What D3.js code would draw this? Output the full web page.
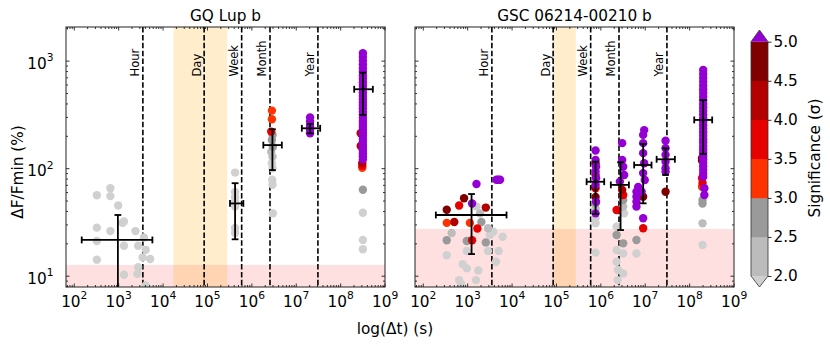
<!DOCTYPE html>
<html><head><meta charset="utf-8">
<script src="https://cdn.jsdelivr.net/npm/d3@7"></script>
<style>body{margin:0;background:#fff} svg{display:block;font-family:"DejaVu Sans",sans-serif}</style>
</head><body><svg id="c" width="830" height="346"></svg>
<script>
// ---------------- data ----------------
const panelTitles = ["GQ Lup b", "GSC 06214-00210 b"];
const timescaleNames = ["Hour", "Day", "Week", "Month", "Year"];
const timescaleSeconds = [3600, 86400, 604800, 2.628e6, 3.156e7];
const xTickExponents = [2, 3, 4, 5, 6, 7, 8, 9];
const yTickExponents = [1, 2, 3];
const sigTicks = [2.0, 2.5, 3.0, 3.5, 4.0, 4.5, 5.0];
const sigBinColors = ["#bcbcbc", "#9a9a9a", "#ff3300", "#e60000", "#b30000", "#800000"];
const sigUnderColor = "#d0d0d0";
const sigOverColor = "#9400d3";
const gqDayBand = [1.76e4, 2.85e5];
const gscDayBand = [86400, 2.8e5];
const gqNoiseFloor = 12.6;
const gscNoiseFloor = 27.2;

// points: [delta t (s), dF/Fmin (%), significance (sigma)]
const gqPoints = [
  [331,56,1.5],[668,65,1.5],[668,55,1.5],[1000,45,1.5],[1350,32,1.5],[1260,31,1.5],[331,28,1.5],
  [668,26,1.5],[2450,26,1.5],[331,21,1.5],[1350,19,1.5],[2820,19,1.5],[3800,22.7,1.5],[4170,17.4,1.5],
  [331,14.1,1.5],[3550,14.8,1.5],[5250,14.3,1.5],[2820,12,1.5],[2700,10.4,1.5],[1350,10.2,1.5],[4170,8.1,1.5],
  [4.3e5,91,1.5],[4.3e5,60,1.5],[4.3e5,54,1.5],[4.3e5,49,1.5],[4.3e5,44,1.5],[4.3e5,27.8,1.5],[4.3e5,25,1.5],
  [2.9e6,343,3.3],[2.9e6,285,3.3],[2.8e6,219,3.7],[3.0e6,204,2.7],[2.9e6,183,2.7],[3.05e6,158,2.7],
  [2.8e6,142,2.2],[3.0e6,128,2.2],[2.9e6,111,1.5],[3.0e6,100,1.5],[2.95e6,78,1.5],[3.0e6,70,1.5],[3.05e6,38,1.5],
  [2.1e7,297,5.5],[2.1e7,272,5.5],[2.1e7,247,5.5],[2.1e7,228,5.5],[2.1e7,211,5.5],
  [2.9e8,211,4.2],[2.9e8,161,4.2],[3.15e8,112,4.2],[3.15e8,106,3.7],[3.15e8,101,3.2],
  [3.25e8,63,2.7],[3.25e8,38.5,1.5],[3.25e8,21.5,1.5],[3.25e8,17.6,1.5],
  [3.25e8,1170,5.5],[3.25e8,1080,5.5],[3.25e8,1000,5.5],[3.25e8,920,5.5],[3.25e8,850,5.5],[3.25e8,790,5.5],
  [3.25e8,730,5.5],[3.25e8,680,5.5],[3.25e8,630,5.5],[3.25e8,585,5.5],[3.25e8,545,5.5],[3.25e8,505,5.5],
  [3.25e8,470,5.5],[3.25e8,440,5.5],[3.25e8,410,5.5],[3.25e8,385,5.5],[3.25e8,360,5.5],[3.25e8,335,5.5],
  [3.25e8,315,5.5],[3.25e8,295,5.5],[3.25e8,275,5.5],[3.25e8,258,5.5],[3.25e8,242,5.5],[3.25e8,228,5.5],
  [3.25e8,214,5.5],[3.25e8,200,5.5],[3.25e8,188,5.5],[3.25e8,176,5.5],[3.25e8,165,5.5],[3.25e8,155,5.5],
  [3.25e8,146,5.5],[3.25e8,137,5.5],[3.25e8,129,5.5],[3.25e8,121,5.5]
];
const gscPoints = [
  [1620,71.3,5.5],[4570,78,5.5],[5000,78,5.5],[5500,78,5.5],[850,52.5,4.7],[660,45,3.7],[1290,47,5.5],
  [347,41,4.7],[2630,43,4.2],[347,31,3.2],[513,31.6,4.2],[1150,31,3.2],[1700,27.5,3.7],[1290,21.4,3.7],
  [1620,44,1.5],[1950,38,2.2],[2090,31.6,2.7],[2950,27.6,2.2],[3890,25.6,1.5],[3240,24,1.5],[6300,23,1.5],
  [447,25,2.2],[347,21.4,2.7],[980,21,2.7],[2630,20.4,2.7],[980,17,1.5],[2950,17,1.5],[5130,17,1.5],
  [347,15.5,1.5],[4470,13.5,1.5],[795,12.8,1.5],[980,11.7,1.5],[1780,11.2,1.5],[660,9.1,1.5],[740,8.3,1.5],[1580,9.1,1.5],
  [7.8e5,146,5.5],[7.8e5,119,5.5],[7.8e5,111,4.7],[8.0e5,103,5.5],[7.8e5,93,5.5],[7.8e5,86.5,4.2],[8.0e5,80.5,5.5],
  [7.8e5,70,5.5],[7.6e5,67,4.7],[7.8e5,65,3.7],[7.8e5,54,4.7],[8.0e5,48.8,5.5],[7.8e5,47,2.7],[7.8e5,42,2.2],
  [7.8e5,38,5.5],[7.8e5,34,1.5],[7.8e5,30.7,1.5],[7.8e5,16.4,1.5],
  [3.1e6,171,5.5],[3.1e6,119,5.5],[3.27e6,103,5.5],[3.44e6,86.5,5.5],[2.75e6,75,5.5],[3.1e6,62.6,4.2],[3.27e6,56.4,3.7],
  [2.32e6,40.8,3.7],[3.27e6,50.6,2.7],[3.27e6,43.8,2.2],[3.44e6,38,1.5],[2.32e6,28.6,1.5],[2.32e6,23.9,2.7],
  [3.27e6,20,2.7],[2.32e6,17.3,1.5],[3.27e6,16.1,1.5],[2.32e6,13.5,1.5],[2.5e6,11.3,1.5],[3.27e6,10.5,1.5],[2.45e6,9.1,1.5],
  [9.7e6,226,5.5],[9.2e6,204,5.5],[9.2e6,171,5.5],[9.2e6,138,5.5],[9.7e6,111,5.5],[9.2e6,90,5.5],[1.0e7,77.6,5.5],
  [7.1e6,67,5.5],[6.5e6,60.4,5.5],[8.5e6,60.4,5.5],[9.2e6,54.3,4.7],[6.5e6,54.3,5.5],[6.5e6,48.8,5.5],[6.5e6,43.9,5.5],
  [9.2e6,34.2,5.5],[9.2e6,27.6,3.7],[6.5e6,21.5,2.7],[6.5e6,16.1,1.5],
  [2.94e7,180,5.5],[2.94e7,153,5.5],[2.94e7,133,5.5],[2.94e7,115,5.5],[2.94e7,99.7,5.5],[2.94e7,92.8,5.5],[2.94e7,60.4,4.7],
  [1.95e8,124,4.7],[1.95e8,118,4.7],[1.95e8,80.5,3.7],[2.0e8,73,3.7],[1.95e8,67.3,3.2],[2.0e8,50.6,2.7],[2.0e8,47,2.7],
  [2.0e8,30.7,2.2],[2.0e8,19.3,1.5],[2.2e8,65,5.5],[2.2e8,56.4,5.5],
  [2.07e8,819,5.5],[2.07e8,750,5.5],[2.07e8,690,5.5],[2.07e8,635,5.5],[2.07e8,585,5.5],[2.07e8,540,5.5],[2.07e8,500,5.5],
  [2.07e8,462,5.5],[2.07e8,428,5.5],[2.07e8,396,5.5],[2.07e8,367,5.5],[2.07e8,340,5.5],[2.07e8,315,5.5],[2.07e8,292,5.5],
  [2.07e8,271,5.5],[2.07e8,251,5.5],[2.07e8,233,5.5],[2.07e8,216,5.5],[2.07e8,200,5.5],[2.07e8,186,5.5],[2.07e8,173,5.5],
  [2.07e8,161,5.5],[2.07e8,150,5.5],[2.07e8,140,5.5],[2.07e8,130,5.5],[2.07e8,121,5.5],[2.07e8,112,5.5],[2.07e8,104,5.5],
  [2.07e8,96,5.5],[2.07e8,89,5.5],[2.07e8,83,5.5]
];
// binned means: [t centre, t low, t high, f centre, f low, f high]
const gqBins = [
  [985, 151, 5900, 21.5, 5, 36.7],
  [4.3e5, 3.3e5, 6.6e5, 47, 21.8, 72.5],
  [2.98e6, 1.86e6, 4.86e6, 164, 96, 230],
  [2.1e7, 1.37e7, 3.55e7, 235, 211, 258],
  [3.25e8, 2.07e8, 5.45e8, 542, 313, 773]
];
const gscBins = [
  [1255, 197, 7700, 36.7, 15.9, 57.5],
  [7.8e5, 4.9e5, 1.22e6, 74.8, 37.5, 115],
  [2.85e6, 1.72e6, 4.39e6, 69.9, 26.6, 113.5],
  [9.2e6, 5.77e6, 1.42e7, 107, 47.1, 168],
  [2.94e7, 1.85e7, 4.77e7, 121, 86.5, 153],
  [2.07e8, 1.3e8, 3.3e8, 281, 135.5, 430]
];

// ---------------- drawing ----------------
const svg = d3.select("#c");
const FS = 15.3;
const yTop = 27, yBottom = 287;
const xDomain = [Math.pow(10, 1.825), Math.pow(10, 9.01)];
const y = d3.scaleLog().domain([Math.pow(10, 0.895), Math.pow(10, 3.313)]).range([yBottom, yTop]);
const color = d3.scaleThreshold().domain(sigTicks).range([sigUnderColor].concat(sigBinColors, [sigOverColor]));

function minorTicks(domain) {
  const out = [];
  for (let e = 0; e <= 10; e++) for (let k = 2; k <= 9; k++) {
    const v = k * Math.pow(10, e);
    if (v >= domain[0] && v <= domain[1]) out.push(v);
  }
  return out;
}
function majorTicks(exps) { return exps.map(e => Math.pow(10, e)); }

function supLabels(sel) {
  sel.selectAll(".tick text").each(function(d) {
    const t = d3.select(this);
    const e = Math.round(Math.log10(d));
    t.text(null).attr("font-size", FS).attr("fill", "#000").attr("font-family", "DejaVu Sans");
    t.append("tspan").text("10");
    t.append("tspan").attr("dy", -7.5).attr("font-size", 10.7).text(e);
  });
}

function drawPanel(idx, x0, x1, points, bins, band, floor, showY) {
  const x = d3.scaleLog().domain(xDomain).range([x0, x1]);
  const g = svg.append("g");
  const clipId = "clip" + idx;
  svg.append("clipPath").attr("id", clipId).append("rect")
    .attr("x", x0).attr("y", yTop).attr("width", x1 - x0).attr("height", yBottom - yTop);
  const inner = g.append("g").attr("clip-path", `url(#${clipId})`);

  inner.append("rect").attr("x", x0).attr("width", x1 - x0)
    .attr("y", y(floor)).attr("height", yBottom - y(floor))
    .attr("fill", "rgba(255,0,0,0.12)");
  inner.append("rect").attr("x", x(band[0])).attr("width", x(band[1]) - x(band[0]))
    .attr("y", yTop).attr("height", yBottom - yTop)
    .attr("fill", "rgba(255,165,0,0.2)");

  inner.selectAll("line.ts").data(timescaleSeconds).join("line")
    .attr("x1", d => x(d)).attr("x2", d => x(d)).attr("y1", yTop).attr("y2", yBottom)
    .attr("stroke", "#000").attr("stroke-width", 1.6).attr("stroke-dasharray", "5.5,2.4");
  g.selectAll("text.ts").data(timescaleSeconds).join("text")
    .attr("transform", d => `translate(${x(d) - 3.5},76.5) rotate(-90)`)
    .attr("font-size", 11.5).attr("fill", "#000")
    .text((d, i) => timescaleNames[i]);

  const sorted = points.slice().sort((a, b) => a[2] - b[2]);
  inner.selectAll("circle").data(sorted).join("circle")
    .attr("cx", d => x(d[0])).attr("cy", d => y(d[1])).attr("r", 4.2)
    .attr("fill", d => color(d[2]));

  const eb = inner.append("g").attr("stroke", "#000").attr("stroke-width", 1.8);
  bins.forEach(b => {
    eb.append("line").attr("x1", x(b[1])).attr("x2", x(b[2])).attr("y1", y(b[3])).attr("y2", y(b[3]));
    eb.append("line").attr("x1", x(b[0])).attr("x2", x(b[0])).attr("y1", y(b[4])).attr("y2", y(b[5]));
    [b[1], b[2]].forEach(v => eb.append("line").attr("x1", x(v)).attr("x2", x(v)).attr("y1", y(b[3]) - 3.4).attr("y2", y(b[3]) + 3.4));
    [b[4], b[5]].forEach(v => eb.append("line").attr("x1", x(b[0]) - 3.4).attr("x2", x(b[0]) + 3.4).attr("y1", y(v)).attr("y2", y(v)));
  });

  const xMin = minorTicks(xDomain), yMin = minorTicks(y.domain());
  const xMaj = majorTicks(xTickExponents), yMaj = majorTicks(yTickExponents);
  const mk = (axis, vals, size, tx, ty) => {
    const a = g.append("g").attr("transform", `translate(${tx},${ty})`)
      .call(axis.tickValues(vals).tickSize(-size).tickFormat(""));
    a.select(".domain").remove();
    a.selectAll(".tick line").attr("stroke", "#000").attr("stroke-width", 0.8);
    return a;
  };
  mk(d3.axisBottom(x), xMin, 2, 0, yBottom);
  mk(d3.axisTop(x), xMin, 2, 0, yTop);
  mk(d3.axisTop(x), xMaj, 3.5, 0, yTop);
  mk(d3.axisLeft(y), yMin, 2, x0, 0);
  mk(d3.axisRight(y), yMin, 2, x1, 0);
  mk(d3.axisRight(y), yMaj, 3.5, x1, 0);

  const xb = g.append("g").attr("transform", `translate(0,${yBottom})`)
    .call(d3.axisBottom(x).tickValues(xMaj).tickSize(-3.5).tickPadding(9));
  xb.select(".domain").remove();
  xb.selectAll(".tick line").attr("stroke", "#000").attr("stroke-width", 0.8);
  supLabels(xb);

  const yl = g.append("g").attr("transform", `translate(${x0},0)`)
    .call(d3.axisLeft(y).tickValues(yMaj).tickSize(-3.5).tickPadding(12.5));
  yl.select(".domain").remove();
  yl.selectAll(".tick line").attr("stroke", "#000").attr("stroke-width", 0.8);
  if (showY) { supLabels(yl); yl.selectAll(".tick text").attr("dy", "0.48em"); }
  else yl.selectAll(".tick text").remove();

  g.append("rect").attr("x", x0).attr("y", yTop).attr("width", x1 - x0).attr("height", yBottom - yTop)
    .attr("fill", "none").attr("stroke", "#222").attr("stroke-width", 1);

  g.append("text").attr("x", (x0 + x1) / 2).attr("y", 20.7).attr("text-anchor", "middle")
    .attr("font-size", FS).attr("fill", "#000").text(panelTitles[idx]);
}

drawPanel(0, 66, 385, gqPoints, gqBins, gqDayBand, gqNoiseFloor, true);
drawPanel(1, 415, 734, gscPoints, gscBins, gscDayBand, gscNoiseFloor, false);

svg.append("text").attr("transform", "translate(23,172) rotate(-90)").attr("text-anchor", "middle")
  .attr("font-size", FS).attr("fill", "#000").text("ΔF/Fmin (%)");
svg.append("text").attr("x", 395).attr("y", 334).attr("text-anchor", "middle")
  .attr("font-size", FS).attr("fill", "#000").text("log(Δt) (s)");

const cbX0 = 751, cbX1 = 768, cbMid = (cbX0 + cbX1) / 2;
const cy = d3.scaleLinear().domain([2, 5]).range([276, 41.7]);
const cb = svg.append("g");
cb.selectAll("rect").data(sigBinColors).join("rect")
  .attr("x", cbX0).attr("width", cbX1 - cbX0)
  .attr("y", (d, i) => cy(sigTicks[i + 1])).attr("height", (d, i) => cy(sigTicks[i]) - cy(sigTicks[i + 1]) + 0.3)
  .attr("fill", d => d);
cb.append("path").attr("d", `M${cbX0},${cy(5)}L${cbMid},30L${cbX1},${cy(5)}Z`).attr("fill", sigOverColor);
cb.append("path").attr("d", `M${cbX0},${cy(2)}L${cbMid},287L${cbX1},${cy(2)}Z`).attr("fill", sigUnderColor);
cb.append("path")
  .attr("d", `M${cbX0},${cy(5)}L${cbMid},30L${cbX1},${cy(5)}L${cbX1},${cy(2)}L${cbMid},287L${cbX0},${cy(2)}Z`)
  .attr("fill", "none").attr("stroke", "#333").attr("stroke-width", 0.8);
const ca = cb.append("g").attr("transform", `translate(${cbX1},0)`)
  .call(d3.axisRight(cy).tickValues(sigTicks).tickSize(3.5).tickPadding(2).tickFormat(d3.format(".1f")));
ca.select(".domain").remove();
ca.selectAll(".tick line").attr("stroke", "#000").attr("stroke-width", 0.8);
ca.selectAll(".tick text").attr("font-size", FS).attr("fill", "#000").attr("font-family", "DejaVu Sans");
svg.append("text").attr("transform", "translate(820,158) rotate(-90)").attr("text-anchor", "middle")
  .attr("font-size", FS).attr("fill", "#000").text("Significance (σ)");
</script>
</body></html>
